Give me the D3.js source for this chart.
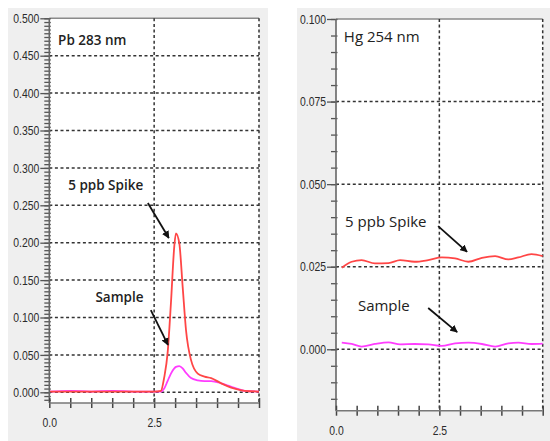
<!DOCTYPE html>
<html><head><meta charset="utf-8">
<script src="https://cdn.jsdelivr.net/npm/d3@7"></script>
<style>
html,body{margin:0;padding:0;background:#fff;}
svg{display:block;}
</style></head>
<body>
<svg id="chart" width="550" height="441"></svg>
<script>
// ---------------- data ----------------
const pbTime   = [0,0.5,1.0,1.5,2.0,2.5,2.66,2.74,2.82,2.90,2.98,3.02,3.10,3.18,3.26,3.38,3.54,3.70,3.86,4.10,4.26,4.42,4.66,5.0];
const pbSpike  = [0.001,0.001,0.001,0.001,0.001,0.001,0.002,0.020,0.052,0.119,0.195,0.2125,0.199,0.141,0.083,0.043,0.025,0.021,0.019,0.012,0.008,0.005,0.002,0.001];
const pbSample = [0.001,0.002,0.001,0.002,0.001,0.001,0.001,0.005,0.015,0.025,0.032,0.034,0.035,0.032,0.026,0.019,0.016,0.015,0.015,0.012,0.009,0.006,0.002,0.001];

const hgTime   = [0.14,0.38,0.62,0.94,1.27,1.55,1.90,2.23,2.56,2.88,3.20,3.53,3.85,4.17,4.41,4.73,5.0];
const hgSpike  = [0.0247,0.0265,0.0270,0.0260,0.0261,0.0270,0.0265,0.0270,0.0278,0.0275,0.0265,0.0277,0.0282,0.0272,0.0278,0.0288,0.0282];
const hgSample = [0.0020,0.0016,0.0008,0.0016,0.0021,0.0015,0.0016,0.0015,0.0010,0.0018,0.0020,0.0016,0.0008,0.0018,0.0020,0.0016,0.0017];

const pbYTicks = [0,0.05,0.1,0.15,0.2,0.25,0.3,0.35,0.4,0.45,0.5];
const hgYTicks = [0,0.025,0.05,0.075,0.1];
const xTickLabels = [0,2.5];
const xGrid = [2.5,5.0];

const panels = [
  {
    title:"Pb 283 nm", time:pbTime, spike:pbSpike, sample:pbSample,
    yTicks:pbYTicks, yFmt:d3.format(".3f"), yMin:-0.0143, yMax:0.5, minorStep:0.005,
    bg:[8,8,260,433], plot:[49.3,18.3,259,403],
    labelWeight:600, labelSize:13.5,
    titlePos:[0.21,0.464], spikePos:[0.45,0.2705], samplePos:[1.10,0.1207],
    spikeArrow:[[2.35,0.253],[2.85,0.2063]], sampleArrow:[[2.42,0.110],[2.83,0.0633]]
  },
  {
    title:"Hg 254 nm", time:hgTime, spike:hgSpike, sample:hgSample,
    yTicks:hgYTicks, yFmt:d3.format(".3f"), yMin:-0.0186, yMax:0.1, minorStep:0.005,
    bg:[297,8,253,433], plot:[336,19,542.7,410.7],
    labelWeight:400, labelSize:15,
    titlePos:[0.19,0.0930], spikePos:[0.22,0.0370], samplePos:[0.53,0.0116],
    spikeArrow:[[2.47,0.0373],[3.17,0.0295]], sampleArrow:[[2.23,0.0125],[2.93,0.0052]]
  }
];

const svg = d3.select("#chart");
const defs = svg.append("defs");
defs.append("marker").attr("id","arrow").attr("viewBox","0 0 10 10")
  .attr("refX",9).attr("refY",5).attr("markerWidth",4.2).attr("markerHeight",4.2)
  .attr("orient","auto").attr("markerUnits","strokeWidth")
  .append("path").attr("d","M0,0 L10,5 L0,10 Z").attr("fill","#111");

function condense(sel){
  sel.attr("font-family","'Liberation Sans',Arial,sans-serif").attr("font-size",13).attr("fill","#2a2a2a")
    .each(function(){
      const w = this.getComputedTextLength();
      d3.select(this).attr("textLength",w*0.8).attr("lengthAdjust","spacingAndGlyphs");
    });
}

panels.forEach((p,i)=>{
  const g = svg.append("g");
  g.append("rect").attr("x",p.bg[0]).attr("y",p.bg[1]).attr("width",p.bg[2]).attr("height",p.bg[3]).attr("fill","#efefef");
  const [x0,y0,x1,y1] = p.plot;
  const x = d3.scaleLinear().domain([0,5]).range([x0,x1]);
  const y = d3.scaleLinear().domain([p.yMin,p.yMax]).range([y1,y0]);
  g.append("rect").attr("x",x0).attr("y",y0).attr("width",x1-x0).attr("height",y1-y0).attr("fill","#fff");

  // top border
  g.append("line").attr("x1",x0).attr("x2",x1).attr("y1",y(p.yMax)).attr("y2",y(p.yMax))
    .attr("stroke","#8a8a8a").attr("stroke-width",1.5);

  // horizontal grid
  g.selectAll(".hg").data(p.yTicks.filter(t=>t<p.yMax-1e-9)).enter().append("line")
    .attr("x1",x0).attr("x2",x1).attr("y1",d=>y(d)).attr("y2",d=>y(d))
    .attr("stroke","#333").attr("stroke-width",1.5).attr("stroke-dasharray","3,2.6");
  // vertical grid
  g.selectAll(".vg").data(xGrid).enter().append("line")
    .attr("x1",d=>x(d)).attr("x2",d=>x(d)).attr("y1",y0).attr("y2",y1)
    .attr("stroke","#333").attr("stroke-width",1.5).attr("stroke-dasharray","3,2.6");

  // series
  const line = d3.line().x(d=>x(d[0])).y(d=>y(d[1])).curve(d3.curveMonotoneX);
  g.append("path").attr("d",line(p.time.map((t,k)=>[t,p.sample[k]])))
    .attr("fill","none").attr("stroke","#ff3cff").attr("stroke-width",1.8);
  g.append("path").attr("d",line(p.time.map((t,k)=>[t,p.spike[k]])))
    .attr("fill","none").attr("stroke","#ff4646").attr("stroke-width",1.8);

  // y axis
  const minor = d3.range(Math.ceil(p.yMin/p.minorStep)*p.minorStep, p.yMax+1e-9, p.minorStep);
  const yAxis = d3.axisLeft(y).tickValues(minor).tickSize(5).tickFormat("");
  const ya = g.append("g").attr("transform",`translate(${x0},0)`).call(yAxis);
  ya.select(".domain").remove();
  ya.selectAll(".tick line").attr("stroke","#555").attr("stroke-width",1.3).attr("x2",-5).attr("x1",1.5);
  const yMaj = d3.axisLeft(y).tickValues(p.yTicks).tickSize(9).tickPadding(1).tickFormat(p.yFmt);
  const yb = g.append("g").attr("transform",`translate(${x0},0)`).call(yMaj);
  yb.select(".domain").remove();
  yb.selectAll(".tick line").attr("stroke","#555").attr("stroke-width",1.3);
  condense(yb.selectAll(".tick text"));
  g.append("line").attr("x1",x0).attr("x2",x0).attr("y1",y0).attr("y2",y1).attr("stroke","#666").attr("stroke-width",1.6);

  // x axis
  const xa = g.append("g").attr("transform",`translate(0,${y1})`)
    .call(d3.axisBottom(x).tickValues(d3.range(0,5.01,0.5)).tickSize(5).tickFormat(""));
  xa.select(".domain").remove();
  xa.selectAll(".tick line").attr("stroke","#444").attr("stroke-width",1.5).attr("y1",-5);
  const xl = g.append("g").attr("transform",`translate(0,${y1})`)
    .call(d3.axisBottom(x).tickValues(xTickLabels).tickSize(0).tickPadding(15).tickFormat(d3.format(".1f")));
  xl.select(".domain").remove();
  condense(xl.selectAll(".tick text"));
  g.append("line").attr("x1",x0).attr("x2",x1).attr("y1",y1).attr("y2",y1).attr("stroke","#777").attr("stroke-width",1.6);

  // annotations
  const txt = (pos,s,weight,size)=>g.append("text").attr("x",x(pos[0])).attr("y",y(pos[1]))
    .attr("font-family","'Open Sans',sans-serif").attr("font-size",size).attr("font-weight",weight)
    .attr("fill","#222").text(s);
  txt(p.titlePos,p.title,p.labelWeight,p.labelSize);
  txt(p.spikePos,"5 ppb Spike",p.labelWeight,p.labelSize);
  txt(p.samplePos,"Sample",p.labelWeight,p.labelSize);
  [p.spikeArrow,p.sampleArrow].forEach(a=>{
    g.append("line").attr("x1",x(a[0][0])).attr("y1",y(a[0][1])).attr("x2",x(a[1][0])).attr("y2",y(a[1][1]))
      .attr("stroke","#111").attr("stroke-width",1.8).attr("marker-end","url(#arrow)");
  });
});
</script>
</body></html>
